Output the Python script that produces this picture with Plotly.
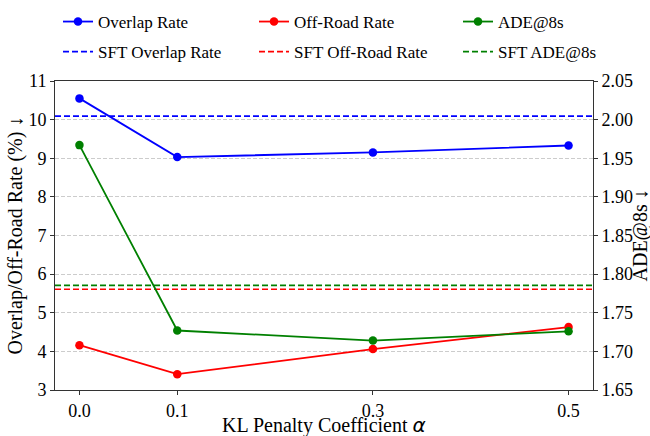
import plotly.graph_objects as go

# ---- data ----
alpha = [0.0, 0.1, 0.3, 0.5]
alpha_ticks = ["0.0", "0.1", "0.3", "0.5"]
overlap_rate = [10.55, 9.03, 9.15, 9.33]
offroad_rate = [4.16, 3.41, 4.06, 4.63]
ade_8s = [1.967, 1.727, 1.714, 1.726]
sft_overlap = 10.09
sft_offroad = 5.61
sft_ade = 1.7855

x_range = [-0.025, 0.525]
left_range = [3, 11]
right_range = [1.65, 2.05]

BLUE, RED, GREEN = "#0000ff", "#ff0000", "#008000"
SERIF = "Liberation Serif, Times New Roman, serif"

fig = go.Figure()

def solid(name, y, color, axis, leg):
    fig.add_trace(go.Scatter(
        x=alpha, y=y, name=name, mode="lines+markers", yaxis=axis,
        line=dict(color=color, width=1.8), marker=dict(color=color, size=8.5),
        legend=leg, legendgroup=name, legendrank=1))

def dashed(name, val, color, axis, leg):
    fig.add_trace(go.Scatter(
        x=x_range, y=[val, val], name=name, mode="lines", yaxis=axis,
        line=dict(color=color, width=1.6, dash="6px,3px"),
        legend=leg, legendgroup=name, legendrank=2, hoverinfo="skip"))

dashed("SFT Overlap Rate", sft_overlap, BLUE, "y", "legend")
dashed("SFT Off-Road Rate", sft_offroad, RED, "y", "legend2")
solid("Overlap Rate", overlap_rate, BLUE, "y", "legend")
solid("Off-Road Rate", offroad_rate, RED, "y", "legend2")
dashed("SFT ADE@8s", sft_ade, GREEN, "y2", "legend3")
solid("ADE@8s", ade_8s, GREEN, "y2", "legend3")

axis_line = dict(showline=True, linecolor="#333333", linewidth=1,
                 ticks="outside", ticklen=4, tickcolor="#333333", tickwidth=1,
                 zeroline=False, tickfont=dict(family=SERIF, size=18, color="#000"))

def legend_at(px):
    return dict(orientation="v", xref="container", yref="container",
                x=px / 650, y=1 - 4 / 436, xanchor="left", yanchor="top",
                font=dict(family=SERIF, size=17, color="#000"),
                traceorder="grouped", tracegroupgap=5,
                bgcolor="rgba(0,0,0,0)")

fig.update_layout(
    width=650, height=436,
    margin=dict(l=55, r=57, t=81, b=46, autoexpand=False),
    plot_bgcolor="white", paper_bgcolor="white",
    showlegend=True,
    xaxis=dict(range=x_range, tickvals=alpha, ticktext=alpha_ticks,
               showgrid=False, mirror=True, **axis_line),
    yaxis=dict(range=left_range, dtick=1, tick0=3,
               showgrid=True, gridcolor="#cccccc", griddash="4px,2px", gridwidth=0.8,
               **axis_line),
    yaxis2=dict(range=right_range, dtick=0.05, tick0=1.65, tickformat=".2f",
                overlaying="y", side="right", showgrid=False, **axis_line),
    legend=legend_at(58),
    legend2=legend_at(254),
    legend3=legend_at(458),
    annotations=[
        dict(text='KL Penalty Coefficient <span style="font-family:DejaVu Sans"><i>α</i></span>',
             xref="paper", yref="paper", x=0.5, y=0, xanchor="center", yanchor="middle",
             yshift=-35, showarrow=False, font=dict(family=SERIF, size=20, color="#000")),
        dict(text="Overlap/Off-Road Rate (%) ↓", textangle=-90,
             xref="paper", yref="paper", x=0, y=0.5, xanchor="center", yanchor="middle",
             xshift=-40, showarrow=False, font=dict(family=SERIF, size=20, color="#000")),
        dict(text="ADE@8s ↓", textangle=-90,
             xref="paper", yref="paper", x=1, y=0.5, xanchor="center", yanchor="middle",
             xshift=47, showarrow=False, font=dict(family=SERIF, size=20, color="#000")),
    ],
)

fig.write_html("out.html", config={"displayModeBar": False},
               post_script="document.body.style.margin='0';")
